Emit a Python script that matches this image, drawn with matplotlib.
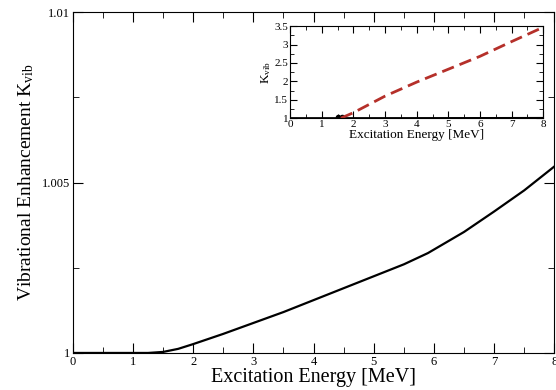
import matplotlib
matplotlib.use('Agg')
import matplotlib.pyplot as plt
from matplotlib.ticker import MultipleLocator

plt.rcParams['font.family'] = ['Liberation Serif', 'DejaVu Serif']
plt.rcParams['mathtext.fontset'] = 'custom'
plt.rcParams['mathtext.rm'] = 'Liberation Serif'
plt.rcParams['mathtext.it'] = 'Liberation Serif'

# main curve: K_vib vs excitation energy
E = [0, 1, 1.25, 1.5, 1.75, 2, 2.5, 3, 3.5, 4, 4.5, 5, 5.5, 5.9, 6.5, 7, 7.5, 8]
K = [1.0, 1.0, 1.0, 1.00003, 1.00012, 1.00026, 1.00056, 1.00088, 1.0012, 1.00155,
     1.0019, 1.00225, 1.0026, 1.00293, 1.00355, 1.00415, 1.00477, 1.00547]

# inset curve (dashed)
E_in = [1.6, 2, 3, 4, 5, 6, 7, 8]
K_in = [1.0, 1.15, 1.6, 1.98, 2.33, 2.68, 3.08, 3.47]

# black points in the inset near the onset
E_pts = [1.5, 1.65]
K_pts = [1.02, 1.02]

fig = plt.figure(figsize=(5.56, 3.9), dpi=100)
ax = fig.add_axes([0.131, 0.095, 0.866, 0.874])
ax.plot(E, K, color='black', lw=1.6)
ax.set_xlim(0, 8)
ax.set_ylim(1, 1.01)
ax.xaxis.set_major_locator(MultipleLocator(1))
ax.xaxis.set_minor_locator(MultipleLocator(0.5))
ax.yaxis.set_minor_locator(MultipleLocator(0.0025))
ax.set_yticks([1, 1.005, 1.01])
ax.set_yticklabels(['1', '1.005', '1.01'])
ax.tick_params(which='both', direction='in', top=True, right=True, labelsize=9, pad=2)
ax.tick_params(which='major', length=7)
ax.tick_params(which='minor', length=4)
ax.set_xlabel('Excitation Energy [MeV]', fontsize=14.5, labelpad=0)
ax.set_ylabel(r'Vibrational Enhancement K$_{\mathrm{vib}}$', fontsize=14, labelpad=4)

ins = fig.add_axes([0.522, 0.697, 0.455, 0.236])
ins.plot(E, K, color='black', lw=1.5)
ins.plot(E_pts, K_pts, 'o', color='black', ms=3)
ins.plot(E_in, K_in, color='#b5302a', lw=2, linestyle=(0, (4.5, 2.2)))
ins.set_xlim(0, 8)
ins.set_ylim(1, 3.5)
ins.xaxis.set_major_locator(MultipleLocator(1))
ins.xaxis.set_minor_locator(MultipleLocator(0.5))
ins.yaxis.set_minor_locator(MultipleLocator(0.25))
ins.set_yticks([1, 1.5, 2, 2.5, 3, 3.5])
ins.set_yticklabels(['1', '1.5', '2', '2.5', '3', '3.5'])
ins.tick_params(which='both', direction='in', top=True, right=True, labelsize=8, pad=1.5)
ins.tick_params(which='major', length=5)
ins.tick_params(which='minor', length=3)
ins.set_xlabel('Excitation Energy [MeV]', fontsize=9.5, labelpad=0)
ins.set_ylabel(r'K$_{\mathrm{vib}}$', fontsize=9.5, labelpad=1)

fig.savefig('out.png', dpi=100)
